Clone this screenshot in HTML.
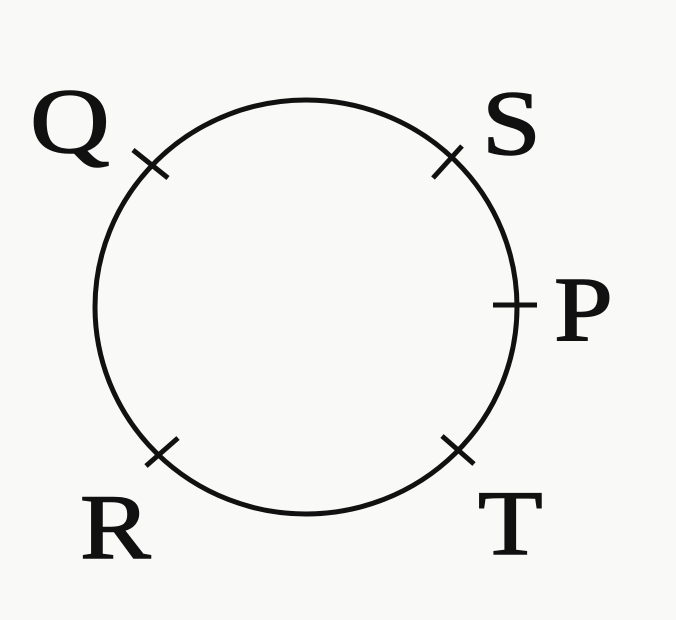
<!DOCTYPE html>
<html><head><style>
html,body{margin:0;padding:0;background:#f9f9f7;}
svg{display:block}
text{font-family:"Liberation Serif",serif;font-size:92px;fill:#111;stroke:#111;stroke-width:1.5;}
</style></head><body>
<svg width="676" height="620" viewBox="0 0 676 620">
<rect width="676" height="620" fill="#f9f9f7"/>
<ellipse cx="306" cy="307" rx="211" ry="207" fill="none" stroke="#111" stroke-width="5"/>
<g stroke="#111" stroke-width="5">
<line x1="133" y1="150" x2="168" y2="178"/>
<line x1="433" y1="178" x2="462" y2="146"/>
<line x1="493" y1="305" x2="537" y2="305"/>
<line x1="146" y1="466" x2="178" y2="438"/>
<line x1="442" y1="436" x2="474" y2="464"/>
</g>
<text transform="translate(30,152) scale(1.2,1)">Q</text>
<text transform="translate(482,154) scale(1.15,1)">S</text>
<text transform="translate(554,340) scale(1.15,1)">P</text>
<text transform="translate(80,558) scale(1.15,1)">R</text>
<text transform="translate(478,554) scale(1.15,1)">T</text>
</svg>
</body></html>
